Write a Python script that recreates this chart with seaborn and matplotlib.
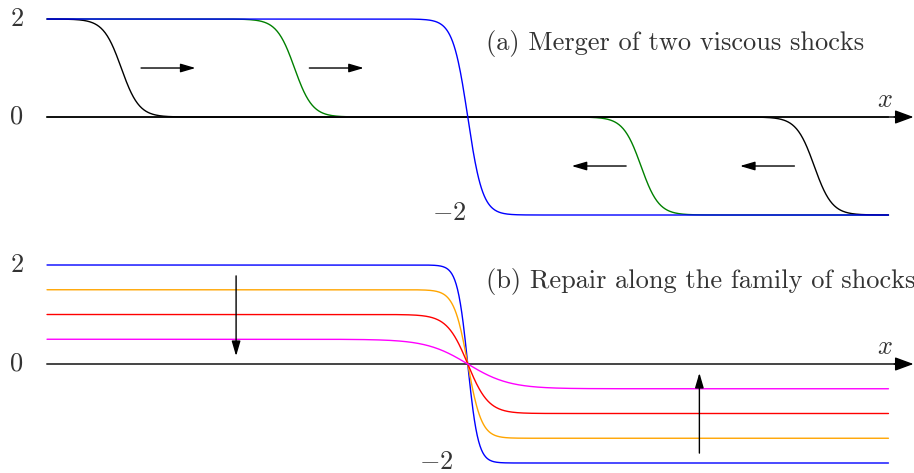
import matplotlib
matplotlib.use("Agg")
import matplotlib.pyplot as plt
import matplotlib.colors as mcolors
import seaborn as sns
import pandas as pd
import numpy as np

# -------------------- data --------------------
# x runs over the drawn interval; shocks are viscous tanh profiles
x_min, x_max = -4.25, 4.25

# (a) merger of two viscous shocks
a_names = ["green_l", "green_r", "black_l", "black_r", "blue"]
a_colors = ["green", "green", "black", "black", "blue"]
a_left = [2, 0, 2, 0, 2]
a_right = [0, -2, 0, -2, -2]
a_center = [-1.75, 1.75, -3.5, 3.5, 0.0]
a_width = [0.18, 0.18, 0.18, 0.18, 0.15]

# (b) repair along the family of shocks
b_names = ["blue", "orange", "red", "magenta"]
b_colors = ["blue", "orange", "red", "magenta"]
b_left = [2, 1.5, 1, 0.5]
b_right = [-2, -1.5, -1, -0.5]
b_center = [0.0, 0.0, 0.0, 0.0]
b_width = [0.105, 0.14, 0.21, 0.42]

# arrows: (x0, y0, x1, y1)
a_arrows = [(-3.30, 1.0, -2.75, 1.0), (-1.60, 1.0, -1.05, 1.0),
            (1.60, -1.0, 1.05, -1.0), (3.30, -1.0, 2.75, -1.0)]
b_arrows = [(-2.34, 1.78, -2.34, 0.16), (2.34, -1.80, 2.34, -0.18)]

a_title = "(a) Merger of two viscous shocks"
b_title = "(b) Repair along the family of shocks"


def profiles(names, left, right, center, width):
    x = np.linspace(x_min, x_max, 1200)
    frames = []
    for n, l, r, c, w in zip(names, left, right, center, width):
        u = (l + r) / 2 - (l - r) / 2 * np.tanh((x - c) / w)
        frames.append(pd.DataFrame({"x": x, "u": u, "curve": n}))
    return pd.concat(frames, ignore_index=True)


df_a = profiles(a_names, a_left, a_right, a_center, a_width)
df_b = profiles(b_names, b_left, b_right, b_center, b_width)

# -------------------- plot --------------------
sns.set_theme(style="white")
plt.rcParams["mathtext.fontset"] = "cm"
plt.rcParams["font.family"] = ["cmr10", "DejaVu Serif"]

txt = "#333333"
fig = plt.figure(figsize=(9.14, 4.73), dpi=100)
ax_a = fig.add_axes([0, 1 - 240 / 473, 1, 240 / 473])
ax_b = fig.add_axes([0, 0, 1, 233 / 473])

xl = (-4.725, 4.508)
panels = [
    (ax_a, df_a, a_names, a_colors, a_arrows, a_title, (-2.51, 2.388),
     1.51, (-0.19, -1.96), 0.35),
    (ax_b, df_b, b_names, b_colors, b_arrows, b_title, (-2.202, 2.505),
     1.66, (-0.32, -1.99), 0.34),
]

green_hex = mcolors.to_hex("green")
for ax, df, names, colors, arrows, title, yl, ty, m2, xy in panels:
    ax.set_facecolor("none")
    # horizontal x axis, arrow head at the right edge
    ax.plot([x_min, xl[1] - 0.1], [0, 0], color="#444444", lw=1.4, zorder=1.9)
    ax.annotate("", xy=(xl[1] - 0.005, 0), xytext=(xl[1] - 0.2, 0),
                arrowprops=dict(arrowstyle="-|>,head_length=0.95,head_width=0.35",
                                color="black", lw=1.0, mutation_scale=12,
                                shrinkA=0, shrinkB=0))
    sns.lineplot(data=df, x="x", y="u", hue="curve", hue_order=names,
                 palette=dict(zip(names, colors)), estimator=None, sort=False,
                 linewidth=1.0, legend=False, ax=ax)
    # green shocks sit underneath the x axis line
    for line in ax.lines:
        if mcolors.to_hex(line.get_color()) == green_hex:
            line.set_zorder(1.8)
    for x0, y0, x1, y1 in arrows:
        ax.annotate("", xy=(x1, y1), xytext=(x0, y0),
                    arrowprops=dict(arrowstyle="-|>,head_length=0.75,head_width=0.22",
                                    color="black", lw=1.0, mutation_scale=12,
                                    shrinkA=0, shrinkB=0))
    ax.text(-4.558, 2, "$2$", color=txt, fontsize=19, ha="center", va="center")
    ax.text(-4.558, 0, "$0$", color=txt, fontsize=19, ha="center", va="center")
    ax.text(m2[0], m2[1], "$-2$", color=txt, fontsize=19, ha="center", va="center")
    ax.text(4.215, xy, "$x$", color=txt, fontsize=19, ha="center", va="center")
    ax.text(0.184, ty, title, color=txt, fontsize=19, ha="left", va="center")
    ax.set_xlim(*xl)
    ax.set_ylim(*yl)
    ax.set_xlabel("")
    ax.set_ylabel("")
    ax.set_xticks([])
    ax.set_yticks([])
    for s in ax.spines.values():
        s.set_visible(False)

fig.savefig("out.png", dpi=100, facecolor="white")
